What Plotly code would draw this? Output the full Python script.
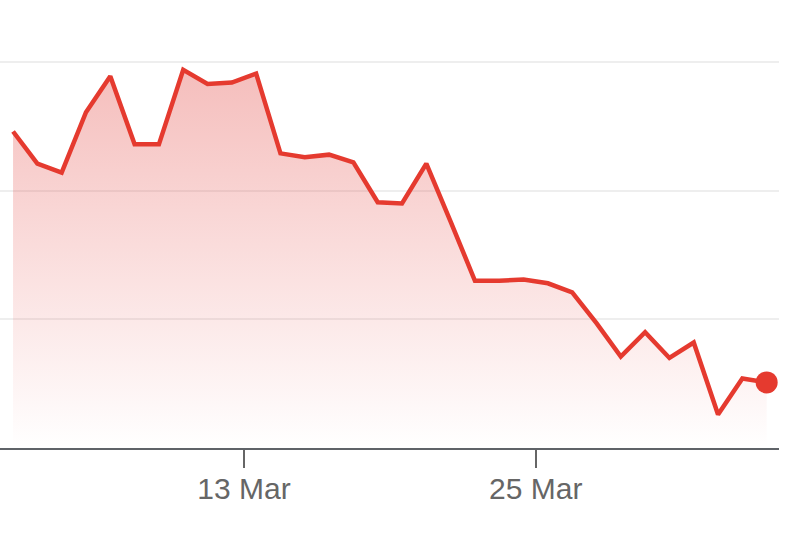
import plotly.graph_objects as go

# daily readings, sampled at midday
dates = [
    "2025-03-03", "2025-03-04", "2025-03-05", "2025-03-06", "2025-03-07",
    "2025-03-08", "2025-03-09", "2025-03-10", "2025-03-11", "2025-03-12",
    "2025-03-13", "2025-03-14", "2025-03-15", "2025-03-16", "2025-03-17",
    "2025-03-18", "2025-03-19", "2025-03-20", "2025-03-21", "2025-03-22",
    "2025-03-23", "2025-03-24", "2025-03-25", "2025-03-26", "2025-03-27",
    "2025-03-28", "2025-03-29", "2025-03-30", "2025-03-31", "2025-04-01",
    "2025-04-02", "2025-04-03",
]
values = [
    24.6, 22.1, 21.4, 26.1, 28.9, 23.6, 23.6, 29.4, 28.3, 28.4,
    29.1, 22.9, 22.6, 22.8, 22.2, 19.1, 19.0, 22.1, 17.6, 13.0,
    13.0, 13.1, 12.8, 12.1, 9.7, 7.1, 9.0, 7.0, 8.2, 2.6,
    5.4, 5.1,
]
tick_dates = ["2025-03-13", "2025-03-25"]
tick_labels = ["13 Mar", "25 Mar"]

x = [d + " 12:00" for d in dates]
red = "#e53a2f"

fig = go.Figure()
fig.add_trace(go.Scatter(
    x=x, y=values, mode="lines",
    line=dict(color=red, width=4.5),
    fill="tozeroy",
    fillgradient=dict(
        type="vertical",
        start=0, stop=30,
        colorscale=[[0, "rgba(229,57,53,0.0)"], [1, "rgba(225,60,55,0.34)"]],
    ),
    hoverinfo="skip",
))
fig.add_trace(go.Scatter(
    x=[x[-1]], y=[values[-1]], mode="markers",
    marker=dict(color=red, size=22),
    hoverinfo="skip",
))

fig.update_layout(
    width=799, height=543,
    margin=dict(l=0, r=20, t=0, b=95),
    paper_bgcolor="white", plot_bgcolor="white",
    showlegend=False,
    font=dict(family="Liberation Sans, Arial, sans-serif", color="#666666"),
)
fig.update_xaxes(
    type="date",
    range=["2025-03-02 23:07", "2025-04-04 00:11"],
    tickvals=tick_dates, ticktext=tick_labels,
    ticks="outside", ticklen=18, tickwidth=2, tickcolor="#666666",
    tickfont=dict(size=30, color="#666666"),
    ticklabelstandoff=-5,
    showline=True, linecolor="#5f6368", linewidth=2,
    showgrid=False, zeroline=False,
)
fig.update_yaxes(
    range=[0, 34.82],
    tickvals=[10, 20, 30],
    showticklabels=False,
    showgrid=True, gridcolor="#eeeeee", gridwidth=1.5,
    zeroline=False, showline=False,
)

# drop the default page margin so the chart sits at the window's corner
fig.write_html(
    "out.html",
    config={"displayModeBar": False},
    post_script="document.body.style.margin='0';",
)
